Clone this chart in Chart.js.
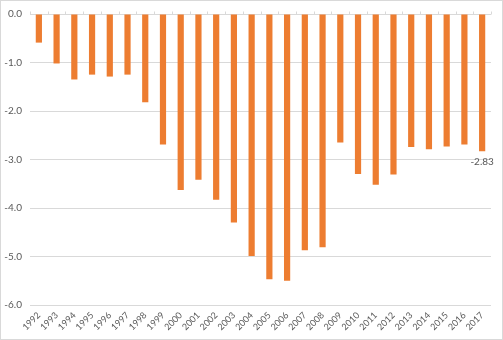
<!DOCTYPE html>
<html>
<head>
<meta charset="utf-8">
<script src="https://cdn.jsdelivr.net/npm/chart.js@4"></script>
<style>
  html, body { margin: 0; padding: 0; background: #fff; }
  canvas { display: block; }
</style>
</head>
<body>
<canvas id="chart" width="503" height="340"></canvas>
<script>
const years = ['1992', '1993', '1994', '1995', '1996', '1997', '1998', '1999', '2000', '2001',
  '2002', '2003', '2004', '2005', '2006', '2007', '2008', '2009', '2010', '2011',
  '2012', '2013', '2014', '2015', '2016', '2017'];
const values = [-0.59, -1.02, -1.35, -1.25, -1.29, -1.25, -1.82, -2.69, -3.63, -3.42,
  -3.83, -4.30, -4.99, -5.47, -5.50, -4.87, -4.81, -2.65, -3.30, -3.52,
  -3.31, -2.74, -2.79, -2.73, -2.69, -2.83];
// only the last bar carries a value label
const labelledIndex = [25];

const labelColor = '#595959';
const gridColor = '#d9d9d9';
const fontFamily = 'Lato, "Open Sans", sans-serif';

// small tick marks on the zero line, plus the frame around the whole chart
const extras = {
  id: 'extras',
  afterDatasetsDraw(chart) {
    const { ctx, scales: { x, y } } = chart;
    const y0 = Math.round(y.getPixelForValue(0)) + 0.5;
    ctx.save();
    ctx.strokeStyle = gridColor;
    ctx.lineWidth = 1;
    const step = (x.right - x.left) / years.length;
    ctx.beginPath();
    for (let i = 0; i <= years.length; i++) {
      const px = Math.round(x.left + i * step) + 0.5;
      ctx.moveTo(px, y0 - 3);
      ctx.lineTo(px, y0);
    }
    ctx.stroke();
    ctx.strokeRect(0.5, 0.5, chart.width - 1, chart.height - 1);

    // value label under the bar end
    const meta = chart.getDatasetMeta(0);
    ctx.fillStyle = labelColor;
    ctx.font = '10px ' + fontFamily;
    ctx.textAlign = 'center';
    ctx.textBaseline = 'middle';
    labelledIndex.forEach(i => {
      const bar = meta.data[i];
      ctx.fillText(values[i].toFixed(2), bar.x, bar.y + 11);
    });
    ctx.restore();
  }
};

new Chart(document.getElementById('chart').getContext('2d'), {
  type: 'bar',
  data: {
    labels: years,
    datasets: [{
      data: values,
      backgroundColor: '#ED7D31',
      borderWidth: 0,
      barPercentage: 0.35,
      categoryPercentage: 1.0
    }]
  },
  options: {
    responsive: false,
    animation: false,
    layout: { padding: { top: 12, right: 12, left: 0, bottom: 0 } },
    plugins: {
      legend: { display: false },
      tooltip: { enabled: false }
    },
    scales: {
      x: {
        grid: { display: false, drawTicks: false },
        border: { display: false },
        ticks: {
          color: labelColor,
          font: { family: fontFamily, size: 9 },
          minRotation: 45,
          maxRotation: 45,
          padding: 5,
          autoSkip: false
        },
        afterFit(scale) { scale.height = 35; }
      },
      y: {
        min: -6,
        max: 0,
        grid: { color: gridColor, drawTicks: false },
        border: { display: false },
        ticks: {
          stepSize: 1,
          color: labelColor,
          font: { family: fontFamily, size: 10 },
          padding: 8,
          callback: v => v.toFixed(1)
        },
        afterFit(scale) { scale.width = 30; }
      }
    }
  },
  plugins: [extras]
});
</script>
</body>
</html>
